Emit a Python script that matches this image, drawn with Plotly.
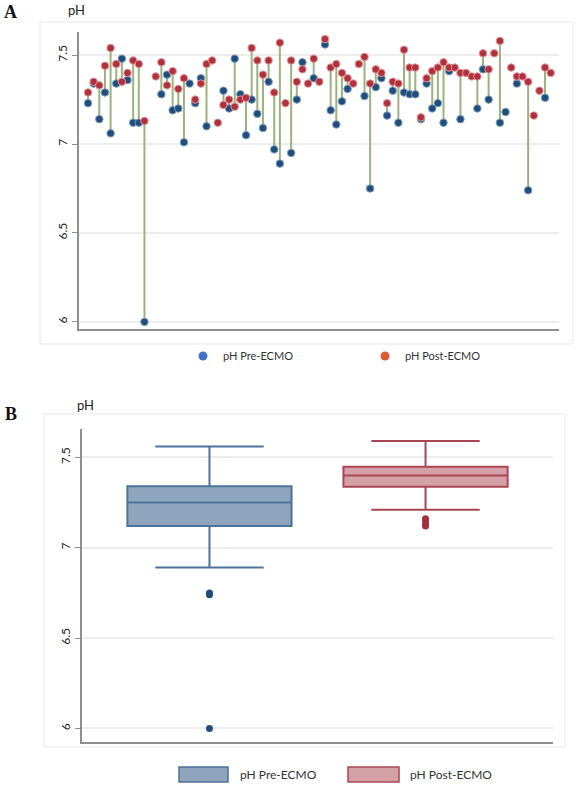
import plotly.graph_objects as go

# ---------------- data ----------------
patient = list(range(1, 84))
ph_pre = [7.23, 7.34, 7.14, 7.29, 7.06, 7.34, 7.48, 7.36, 7.12, 7.12,
          6.00, None, None, 7.28, 7.39, 7.19, 7.20, 7.01, 7.34, 7.23,
          7.37, 7.10, None, None, 7.30, 7.20, 7.48, 7.28, 7.05, 7.25,
          7.17, 7.09, 7.35, 6.97, 6.89, None, 6.95, 7.25, 7.46, None,
          7.37, None, 7.56, 7.19, 7.11, 7.24, 7.31, None, None, 7.27,
          6.75, 7.32, 7.37, 7.16, 7.30, 7.12, 7.29, 7.28, 7.28, 7.14,
          7.34, 7.20, 7.23, 7.12, 7.41, None, 7.14, None, None, 7.20,
          7.42, 7.25, None, 7.12, 7.18, None, 7.34, None, 6.74, None,
          None, 7.26, None]
ph_post = [7.29, 7.35, 7.33, 7.44, 7.54, 7.45, 7.35, 7.40, 7.47, 7.45,
           7.13, None, 7.38, 7.46, 7.33, 7.41, 7.31, 7.37, None, 7.25,
           7.34, 7.45, 7.47, 7.12, 7.22, 7.25, 7.21, 7.25, 7.26, 7.54,
           7.47, 7.39, 7.47, 7.29, 7.57, 7.23, 7.47, 7.35, 7.42, 7.34,
           7.48, 7.35, 7.59, 7.43, 7.45, 7.40, 7.37, 7.34, 7.45, 7.49,
           7.34, 7.42, 7.40, 7.23, 7.35, 7.34, 7.53, 7.43, 7.43, 7.15,
           7.37, 7.41, 7.43, 7.46, 7.43, 7.43, 7.40, 7.40, 7.38, 7.38,
           7.51, 7.42, 7.51, 7.58, None, 7.43, 7.38, 7.38, 7.35, 7.16,
           7.30, 7.43, 7.40]

groups = ["pH Pre-ECMO", "pH Post-ECMO"]
box_pos = [0, 1]
box_q1 = [7.12, 7.337]
box_median = [7.25, 7.40]
box_q3 = [7.34, 7.448]
box_lower = [6.89, 7.21]
box_upper = [7.56, 7.59]

y_ticks = [6, 6.5, 7, 7.5]
y_ticktext = ["6", "6.5", "7", "7.5"]

# ---------------- helpers ----------------
W, H = 578, 800
def px(x):
    return x / W
def py(y):
    return 1 - y / H

FONT = "Lato, 'Open Sans', sans-serif"

# stems
sx, sy = [], []
for p, a, b in zip(patient, ph_pre, ph_post):
    if a is not None and b is not None:
        sx += [p, p, None]
        sy += [a, b, None]

series_pre = [v for v in ph_pre if v is not None]
series_post = [v for v in ph_post if v is not None]
pre_out = [v for v in series_pre if v < box_lower[0] or v > box_upper[0]]
post_out = [v for v in series_post if v < box_lower[1] or v > box_upper[1]]

fig = go.Figure()

fig.add_trace(go.Scatter(x=sx, y=sy, mode="lines",
                         line=dict(color="#9bb27d", width=2),
                         showlegend=False, hoverinfo="skip",
                         xaxis="x", yaxis="y"))
fig.add_trace(go.Scatter(x=patient, y=ph_pre, mode="markers",
                         marker=dict(size=7.5, color="#1f4e7d",
                                     line=dict(width=1, color="#7c9cc0")),
                         showlegend=False, xaxis="x", yaxis="y"))
fig.add_trace(go.Scatter(x=patient, y=ph_post, mode="markers",
                         marker=dict(size=7.5, color="#b0303c",
                                     line=dict(width=1, color="#e0979e")),
                         showlegend=False, xaxis="x", yaxis="y"))
# legend entries for panel A
fig.add_trace(go.Scatter(x=[None], y=[None], mode="markers", name=groups[0],
                         marker=dict(size=9, color="#4673c6"),
                         xaxis="x", yaxis="y", legend="legend"))
fig.add_trace(go.Scatter(x=[None], y=[None], mode="markers", name=groups[1],
                         marker=dict(size=9, color="#df5a2c"),
                         xaxis="x", yaxis="y", legend="legend"))

# panel B boxes
box_fill = ["#8fa5bd", "#d4a1a7"]
box_line = ["#4d729b", "#a94653"]
out_col = ["#1f4e7d", "#a52f3b"]
for i in range(2):
    fig.add_trace(go.Box(x=[box_pos[i]], q1=[box_q1[i]], median=[box_median[i]],
                         q3=[box_q3[i]], lowerfence=[box_lower[i]],
                         upperfence=[box_upper[i]], width=0.76,
                         whiskerwidth=0.66, fillcolor=box_fill[i],
                         line=dict(color=box_line[i], width=2),
                         boxpoints=False, name=groups[i], showlegend=False,
                         xaxis="x2", yaxis="y2"))
fig.add_trace(go.Scatter(x=[box_pos[0]] * len(pre_out), y=pre_out, mode="markers",
                         marker=dict(size=7, color=out_col[0]),
                         showlegend=False, xaxis="x2", yaxis="y2"))
fig.add_trace(go.Scatter(x=[box_pos[1]] * len(post_out), y=post_out, mode="markers",
                         marker=dict(size=7, color=out_col[1]),
                         showlegend=False, xaxis="x2", yaxis="y2"))

axis_common = dict(showline=True, linecolor="#8f8f8f", linewidth=2,
                   zeroline=False, mirror=False)
yaxis_common = dict(axis_common, tickvals=y_ticks, ticktext=y_ticktext,
                    tickangle=-90, ticks="outside", ticklen=5, tickwidth=1,
                    tickcolor="#8f8f8f", showgrid=True, gridcolor="#ededed",
                    gridwidth=1.5, tickfont=dict(size=12, color="#222222", family=FONT))

shapes = [
    dict(type="rect", xref="paper", yref="paper", x0=px(40), x1=px(573),
         y0=py(344), y1=py(22), line=dict(color="#e8e8e8", width=1), layer="below"),
    dict(type="rect", xref="paper", yref="paper", x0=px(44), x1=px(565),
         y0=py(747), y1=py(414), line=dict(color="#e8e8e8", width=1), layer="below"),
    # legend swatches for panel B
    dict(type="rect", xref="paper", yref="paper", x0=px(179), x1=px(228),
         y0=py(782), y1=py(767), fillcolor=box_fill[0],
         line=dict(color=box_line[0], width=1.5)),
    dict(type="rect", xref="paper", yref="paper", x0=px(348), x1=px(399),
         y0=py(782), y1=py(767), fillcolor=box_fill[1],
         line=dict(color=box_line[1], width=1.5)),
]

annotations = [
    dict(text="<b>A</b>", x=px(2), y=py(12), xref="paper", yref="paper",
         xanchor="left", yanchor="middle", showarrow=False,
         font=dict(family="Liberation Serif, serif", size=18, color="#111")),
    dict(text="pH", x=px(76), y=py(10), xref="paper", yref="paper",
         xanchor="center", yanchor="middle", showarrow=False,
         font=dict(family=FONT, size=13, color="#222")),
    dict(text="<b>B</b>", x=px(3), y=py(414), xref="paper", yref="paper",
         xanchor="left", yanchor="middle", showarrow=False,
         font=dict(family="Liberation Serif, serif", size=18, color="#111")),
    dict(text="pH", x=px(85), y=py(405), xref="paper", yref="paper",
         xanchor="center", yanchor="middle", showarrow=False,
         font=dict(family=FONT, size=13, color="#222")),
    dict(text=groups[0], x=px(238), y=py(774), xref="paper", yref="paper",
         xanchor="left", yanchor="middle", showarrow=False,
         font=dict(family=FONT, size=12, color="#333")),
    dict(text=groups[1], x=px(408), y=py(774), xref="paper", yref="paper",
         xanchor="left", yanchor="middle", showarrow=False,
         font=dict(family=FONT, size=12, color="#333")),
]

fig.update_layout(
    width=W, height=H, margin=dict(l=0, r=0, t=0, b=0),
    paper_bgcolor="white", plot_bgcolor="white",
    font=dict(family=FONT, size=11, color="#333"),
    xaxis=dict(axis_common, domain=[px(79), px(559)], range=[-0.6, 84.47],
               showticklabels=False, ticks="", showgrid=False, anchor="y"),
    yaxis=dict(yaxis_common, domain=[py(329), py(32)], range=[5.96, 7.63], anchor="x"),
    xaxis2=dict(axis_common, domain=[px(82), px(553)], range=[-0.59, 1.59],
                showticklabels=False, ticks="", showgrid=False, anchor="y2"),
    yaxis2=dict(yaxis_common, domain=[py(742), py(429)], range=[5.925, 7.657], anchor="x2"),
    legend=dict(orientation="h", x=px(183), y=py(356), xanchor="left", yanchor="middle",
                entrywidth=137, entrywidthmode="pixels", itemsizing="trace",
                font=dict(family=FONT, size=11, color="#333"),
                bgcolor="rgba(0,0,0,0)"),
    shapes=shapes, annotations=annotations,
)

fig.write_html("out.html", config={"displayModeBar": False},
               post_script="document.body.style.margin='0';document.body.style.overflow='hidden';")
